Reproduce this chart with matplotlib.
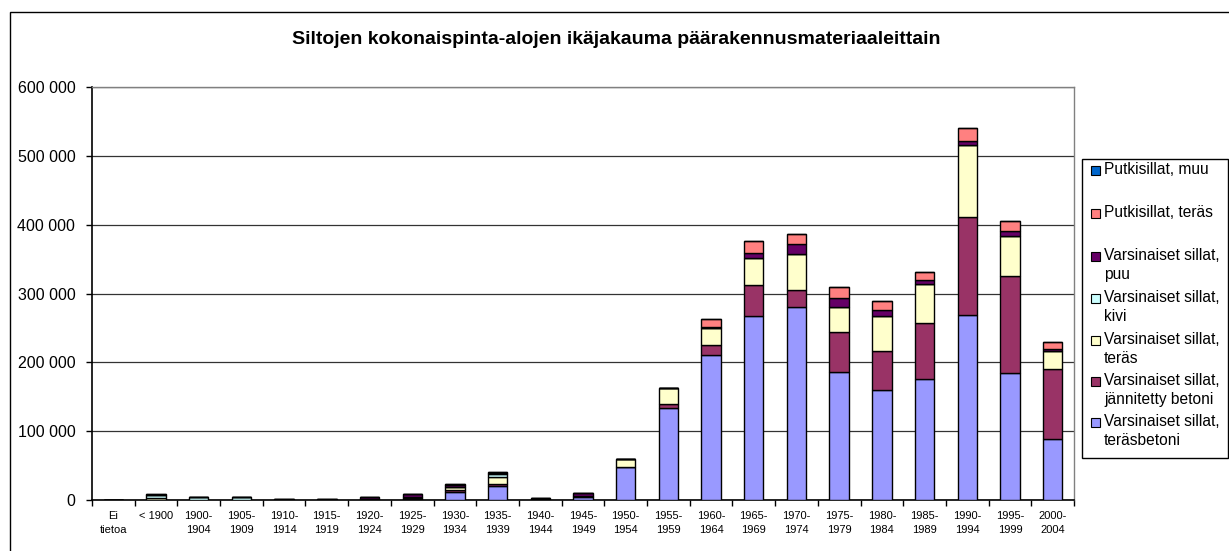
import matplotlib
matplotlib.use('Agg')
from matplotlib import pyplot as plt
from matplotlib.patches import Rectangle
from matplotlib.ticker import FuncFormatter, MultipleLocator
import numpy as np

plt.rcParams['font.family'] = ['Liberation Sans', 'DejaVu Sans']

W, H = 1229, 551

kaudet = ["Ei\ntietoa", "< 1900", "1900-\n1904", "1905-\n1909", "1910-\n1914", "1915-\n1919",
          "1920-\n1924", "1925-\n1929", "1930-\n1934", "1935-\n1939", "1940-\n1944", "1945-\n1949",
          "1950-\n1954", "1955-\n1959", "1960-\n1964", "1965-\n1969", "1970-\n1974", "1975-\n1979",
          "1980-\n1984", "1985-\n1989", "1990-\n1994", "1995-\n1999", "2000-\n2004"]

# pinta-alat, tuhatta m2
terasbetoni = [0, 0, 0, 0, 0, 0, 0.3, 2, 11, 21, 0.5, 5, 48, 133, 211, 267, 280, 186, 160, 176, 269, 184, 88]
jannitetty = [0, 0, 0, 0, 0, 0, 0.3, 1, 3, 2, 0, 0.5, 0.5, 6, 14, 45, 25, 58, 56, 81, 142, 141, 103]
teras = [0, 3, 0.5, 0.5, 0.3, 0.3, 0.5, 1, 5, 11, 0.5, 0.5, 10.5, 24, 25, 40, 52, 36, 51, 57, 105, 59, 25]
kivi = [0, 4, 3.5, 3.5, 0.2, 0, 0, 0, 0.5, 3.5, 0, 0, 0, 0, 0, 0, 0, 0, 0, 0, 0, 0, 0]
puu = [0, 0.5, 0.5, 0.5, 1.5, 1.7, 3, 4, 3, 1.5, 1.5, 3.5, 0, 0, 2, 7, 15, 13, 9, 5, 5, 7, 3]
putki_teras = [0, 0.5, 0, 0, 0, 0, 0, 0, 0.5, 1, 0, 0.5, 0, 0, 11, 17, 15, 17, 13, 12, 19, 15, 10]
putki_muu = [0] * 23

sarjat = [
    ("Varsinaiset sillat,\nteräsbetoni", terasbetoni, "#9999FF"),
    ("Varsinaiset sillat,\njännitetty betoni", jannitetty, "#993366"),
    ("Varsinaiset sillat,\nteräs", teras, "#FFFFCC"),
    ("Varsinaiset sillat,\nkivi", kivi, "#CCFFFF"),
    ("Varsinaiset sillat,\npuu", puu, "#660066"),
    ("Putkisillat, teräs", putki_teras, "#FF8080"),
    ("Putkisillat, muu", putki_muu, "#0066CC"),
]


def fx(px):
    return px / W


def fy(py):
    return 1 - py / H


fig = plt.figure(figsize=(W / 100, H / 100), dpi=100)
fig.patches.append(Rectangle((fx(10), fy(600)), fx(1300), fy(12) - fy(600), transform=fig.transFigure,
                             fill=False, edgecolor='black', linewidth=1.0))

ax = fig.add_axes([fx(92), fy(500), fx(1074) - fx(92), fy(87) - fy(500)])

x = np.arange(len(kaudet))
pohja = np.zeros(len(kaudet))
for nimi, arvot, vari in sarjat:
    v = np.array(arvot) * 1000
    ax.bar(x, v, 0.4545, bottom=pohja, color=vari, edgecolor='black', linewidth=1.0, zorder=3)
    pohja += v

ax.set_xlim(-0.5, len(kaudet) - 0.5)
ax.set_ylim(0, 600000)
ax.yaxis.set_major_locator(MultipleLocator(100000))
ax.yaxis.set_major_formatter(FuncFormatter(lambda v, p: '{:,.0f}'.format(v).replace(',', ' ')))
ax.grid(axis='y', color='#333333', linewidth=0.9, zorder=0)
ax.set_axisbelow(True)

ax.set_xticks(x)
ax.set_xticklabels(kaudet, fontsize=8, linespacing=1.45)
ax.set_xticks(np.arange(len(kaudet) + 1) - 0.5, minor=True)
ax.tick_params(axis='x', which='major', length=0, pad=8)
ax.tick_params(axis='x', which='minor', length=4, width=1, direction='out')
ax.tick_params(axis='y', length=4, width=1, direction='out', labelsize=11.5, pad=8)

for s in ['top', 'right']:
    ax.spines[s].set_color('#808080')
    ax.spines[s].set_linewidth(1.0)
for s in ['left', 'bottom']:
    ax.spines[s].set_color('black')
    ax.spines[s].set_linewidth(1.2)

fig.text(fx(616), fy(40), "Siltojen kokonaispinta-alojen ikäjakauma päärakennusmateriaaleittain",
         ha='center', va='center', fontsize=14, fontweight='bold')

# selite
fig.patches.append(Rectangle((fx(1082), fy(458)), fx(1228) - fx(1082), fy(159) - fy(458),
                             transform=fig.transFigure, fill=True, facecolor='white',
                             edgecolor='black', linewidth=1.0))
rivit = [170, 213, 256, 298, 340, 381, 422]
for (nimi, arvot, vari), yy in zip(sarjat[::-1], rivit):
    fig.patches.append(Rectangle((fx(1091), fy(yy + 4.5)), fx(9), fy(0) - fy(9), transform=fig.transFigure,
                                 facecolor=vari, edgecolor='black', linewidth=0.8))
    fig.text(fx(1104), fy(yy - 8), nimi, ha='left', va='top', fontsize=11.2, linespacing=1.35)

fig.savefig('out.png', dpi=100)
